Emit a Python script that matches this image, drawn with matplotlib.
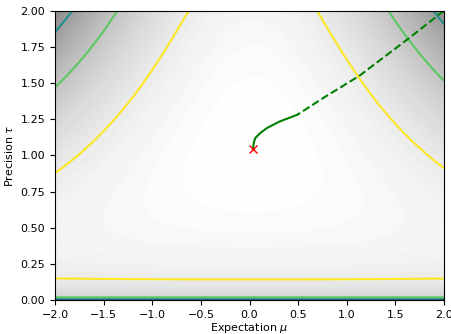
import matplotlib
matplotlib.use('Agg')
import matplotlib.pyplot as plt
import numpy as np

# surface parameters: f = a*log(tau) - tau^2 * (c + (mu - m)^2)
mu_center = 0.035
log_weight = 2.163
spread = 1.0

# contour levels (yellow innermost)
line_levels = [-28.33, -22.31, -16.29, -10.27, -4.24]
shade_low = -40.0

# optimisation path, dashed part then solid part
dash_mu = [2.0, 1.64, 1.13, 0.79, 0.49]
dash_tau = [2.0, 1.81, 1.55, 1.41, 1.28]
solid_mu = [0.49, 0.40, 0.31, 0.18, 0.11, 0.06, 0.045, 0.039, 0.036]
solid_tau = [1.28, 1.257, 1.234, 1.189, 1.154, 1.12, 1.09, 1.062, 1.046]

end_mu = 0.036
end_tau = 1.046

mu = np.linspace(-2, 2, 100)
tau = np.linspace(1e-6, 2, 100)
M, T = np.meshgrid(mu, tau)
F = log_weight * np.log(T) - T ** 2 * (spread + (M - mu_center) ** 2)

fig = plt.figure(figsize=(4.52, 3.34), dpi=100)
ax = fig.add_axes([0.1217, 0.1018, 0.8606, 0.8662])

ax.contourf(M, T, F, levels=np.linspace(shade_low, F.max(), 90), cmap='gray')
ax.contour(M, T, F, levels=line_levels, cmap='viridis', linewidths=1.5)

ax.plot(dash_mu, dash_tau, '--', color='green', linewidth=1.5)
ax.plot(solid_mu, solid_tau, '-', color='green', linewidth=1.5)
ax.plot(end_mu, end_tau, 'x', color='red', markersize=6)

ax.set_xlim(-2, 2)
ax.set_ylim(0, 2)
ax.set_xticks(np.arange(-2, 2.01, 0.5))
ax.set_yticks(np.arange(0, 2.01, 0.25))
ax.tick_params(labelsize=8)
ax.set_xlabel(r'Expectation $\mu$', fontsize=8, labelpad=1)
ax.set_ylabel(r'Precision $\tau$', fontsize=8)

fig.savefig('out.png', dpi=100)
